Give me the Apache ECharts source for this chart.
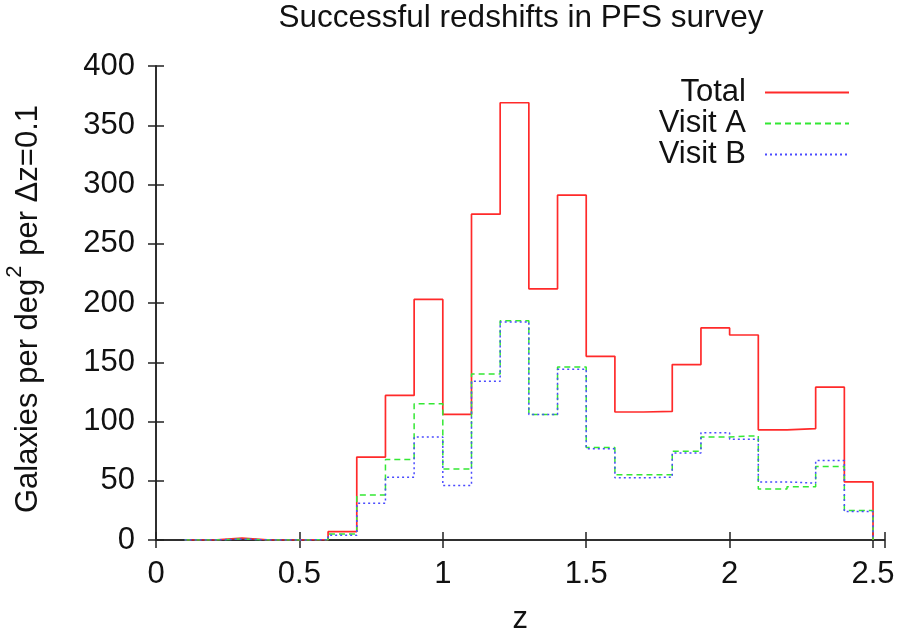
<!DOCTYPE html>
<html>
<head>
<meta charset="utf-8">
<script src="https://cdn.jsdelivr.net/npm/echarts@6/dist/echarts.min.js"></script>
<style>
html,body{margin:0;padding:0;background:#fff;}
#chart{width:907px;height:642px;}
</style>
</head>
<body>
<div id="chart"></div>
<script>
// Bin lower edges (Δz = 0.1); last entry closes the histogram at z=2.5
const zEdges = [0.1, 0.2, 0.3, 0.4, 0.5, 0.6, 0.7, 0.8, 0.9, 1.0, 1.1, 1.2, 1.3, 1.4, 1.5, 1.6, 1.7, 1.8, 1.9, 2.0, 2.1, 2.2, 2.3, 2.4, 2.5];
const totalCounts  = [0, 1.5, 0, 0, 0.3, 7, 70, 122, 203, 106, 275, 369, 212, 291, 155, 108, 108.5, 148, 179, 173, 93, 94, 129, 49, 0];
const visitACounts = [0, 0.8, 0, 0, 0.2, 5, 38, 68, 115, 60, 140, 185, 106, 146, 78, 55, 55, 75, 87, 88, 43, 45, 62, 25, 0];
const visitBCounts = [0, 0.8, 0, 0, 0.2, 4, 31, 53, 87, 46, 134, 184, 106, 144, 77, 52.5, 53, 73.5, 90.5, 85, 49, 48, 67, 24, 0];
const seriesNames = ['Total', 'Visit A', 'Visit B'];

const FONT = '"Liberation Sans", Arial, Helvetica, sans-serif';
const FS = 31;
const chart = echarts.init(document.getElementById('chart'), null, {renderer: 'canvas'});

function pairs(vals) { return zEdges.map((z, i) => [z, vals[i]]); }
function halfLabel(v) {
  return Math.abs(v * 2 - Math.round(v * 2)) < 1e-6 ? String(Math.round(v * 10) / 10) : '';
}

const axisLine = {show: true, lineStyle: {color: '#222', width: 1.5}};
const tickIn = {show: true, inside: true, length: 8, lineStyle: {color: '#222', width: 1.5}};

chart.setOption({
  animation: false,
  backgroundColor: '#ffffff',
  title: {
    text: 'Successful redshifts in PFS survey',
    left: 516, textAlign: 'center', top: 0, padding: [2, 5],
    textStyle: {fontFamily: FONT, fontSize: 31.5, fontWeight: 'normal', color: '#111'}
  },
  grid: {left: 156, right: 22.5, top: 66, bottom: 102, containLabel: false, outerBoundsMode: 'none'},
  legend: {
    data: seriesNames,
    orient: 'vertical', align: 'right',
    right: 52, top: 72,
    itemWidth: 84, itemHeight: 14, itemGap: 0,
    itemStyle: {opacity: 0},
    textStyle: {fontFamily: FONT, fontSize: FS, color: '#111', lineHeight: 31, padding: [0, 14, 0, 0]}
  },
  xAxis: [{
    type: 'value', min: 0, max: 2.54, interval: 0.5,
    name: 'z', nameLocation: 'middle', nameGap: 64,
    nameTextStyle: {fontFamily: FONT, fontSize: FS, color: '#111'},
    axisLine: axisLine, axisTick: tickIn,
    axisLabel: {fontFamily: FONT, fontSize: FS, color: '#111', margin: 19, formatter: halfLabel},
    splitLine: {show: false}
  }, {
    type: 'value', position: 'top', min: 0, max: 2.54, interval: 0.5,
    axisLine: axisLine, axisTick: tickIn, axisLabel: {show: false}, splitLine: {show: false}
  }],
  yAxis: [{
    type: 'value', min: 0, max: 400, interval: 50,
    name: '{t|Galaxies per deg}{s|2}{t| per Δz=0.1}', nameLocation: 'middle', nameGap: 112, nameRotate: 90,
    nameTextStyle: {
      fontFamily: FONT, fontSize: FS, color: '#111', padding: [0, 12, 0, 0],
      rich: {
        t: {fontFamily: FONT, fontSize: FS, color: '#111', lineHeight: 40, verticalAlign: 'bottom'},
        s: {fontFamily: FONT, fontSize: 22, color: '#111', lineHeight: 40, verticalAlign: 'top', padding: [0, 1, 0, 1]}
      }
    },
    axisLine: axisLine, axisTick: tickIn,
    axisLabel: {fontFamily: FONT, fontSize: FS, color: '#111', margin: 21},
    splitLine: {show: false}
  }, {
    type: 'value', position: 'right', min: 0, max: 400, interval: 50,
    axisLine: axisLine, axisTick: tickIn, axisLabel: {show: false}, splitLine: {show: false}
  }],
  series: [{
    name: seriesNames[0], type: 'line', step: 'end', symbol: 'none',
    data: pairs(totalCounts),
    lineStyle: {color: '#ff2a2a', width: 1.7, type: 'solid'},
    itemStyle: {color: '#ff2a2a'}, z: 2
  }, {
    name: seriesNames[1], type: 'line', step: 'end', symbol: 'none',
    data: pairs(visitACounts),
    lineStyle: {color: '#33e833', width: 1.5, type: [6, 4]},
    itemStyle: {color: '#33e833'}, z: 3
  }, {
    name: seriesNames[2], type: 'line', step: 'end', symbol: 'none',
    data: pairs(visitBCounts),
    lineStyle: {color: '#4a4aff', width: 1.5, type: [2, 3]},
    itemStyle: {color: '#4a4aff'}, z: 4
  }]
});
</script>
</body>
</html>
